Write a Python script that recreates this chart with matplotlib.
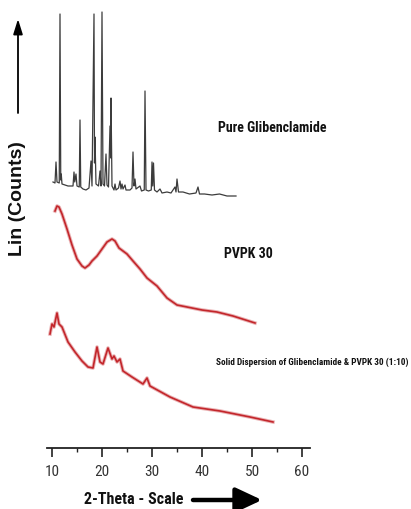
import matplotlib
matplotlib.use("Agg")
import matplotlib.pyplot as plt
from matplotlib import font_manager as fm
from matplotlib.ticker import MultipleLocator

# ---------------- data (2-theta, intensity in arbitrary counts) ----------------
pure_theta = [10.2, 10.6, 10.8, 11.0, 11.45, 11.6, 11.75, 11.85, 12.0, 12.6, 13.2, 14.2, 14.4,
              14.55, 14.8, 15.0, 15.45, 15.6, 15.75, 16.2, 16.8, 17.4, 17.8, 18.0, 18.4, 18.5,
              18.6, 18.8, 19.3, 19.6, 19.8, 20.0, 20.2, 20.5, 20.8, 21.0, 21.3, 21.6, 21.75,
              21.8, 22.0, 22.4, 22.6, 22.8, 23.3, 23.6, 23.8, 24.0, 24.2, 24.6, 24.8, 25.6,
              26.0, 26.2, 26.4, 26.6, 26.8, 27.6, 27.9, 28.45, 28.6, 28.8, 29.3, 29.85, 30.0,
              30.15, 30.3, 30.5, 31.0, 31.6, 32.0, 33.0, 33.8, 34.6, 34.8, 35.0, 35.3, 36.2,
              37.5, 38.8, 39.2, 39.5, 40.5, 42.0, 43.5, 45.0, 46.8]
pure_counts = [266, 265, 286, 266, 265, 434, 268, 274, 264, 263, 262, 262, 276,
               266, 274, 262, 261, 328, 261, 259, 258, 260, 287, 262, 434, 285,
               311, 264, 262, 277, 262, 436, 264, 262, 294, 263, 261, 322, 290,
               350, 262, 258, 264, 258, 260, 267, 259, 264, 259, 263, 258, 258,
               260, 296, 262, 269, 259, 262, 257, 258, 357, 258, 257, 258, 286,
               262, 285, 258, 256, 259, 255, 256, 255, 261, 256, 269, 256, 256,
               254, 255, 261, 254, 254, 253, 254, 252, 252]

pvp_theta = [10.6, 11.0, 11.4, 12.0, 13.0, 14.0, 15.0, 16.0, 16.6, 17.4, 18.0, 19.0, 20.0,
             21.0, 22.0, 22.6, 23.4, 25.0, 26.2, 27.6, 29.0, 31.0, 33.0, 35.0, 37.0, 40.0,
             43.0, 46.2, 50.6]
pvp_counts = [237, 242, 241, 234, 219, 203, 189, 182, 180, 183, 187, 192, 199,
              206, 209, 207, 200, 194, 187, 179, 170, 162, 150, 143, 141, 138,
              136, 132, 125]

sd_theta = [9.6, 10.0, 10.4, 11.0, 11.4, 12.0, 13.2, 14.6, 16.0, 17.2, 18.2, 19.0, 19.6,
            20.2, 21.2, 22.0, 22.4, 23.0, 23.6, 24.2, 26.0, 28.2, 29.0, 29.6, 33.6, 38.2,
            43.6, 49.6, 54.2]
sd_counts = [114, 124, 121, 135, 124, 121, 106, 96, 87, 81, 80, 101, 86,
             84, 100, 89, 92, 86, 89, 77, 71, 64, 70, 62, 51, 41,
             37, 31, 26]

labels = ["Pure Glibenclamide", "PVPK 30",
          "Solid Dispersion of Glibenclamide & PVPK 30 (1:10)"]
x_ticks = [10, 20, 30, 40, 50, 60]

# ---------------- pick a narrow font if one is installed ----------------
entries = fm.fontManager.ttflist
def is_narrow(f):
    return ("condensed" in str(f.stretch).lower() or "Narrow" in f.name
            or "Condensed" in f.name)
narrow_names = {f.name for f in entries if is_narrow(f)}
pref = ["Liberation Sans Narrow", "Roboto Condensed", "Open Sans Condensed",
        "Noto Sans", "Open Sans", "Roboto", "DejaVu Sans"]
narrow_family = None
for p in pref:
    if p in narrow_names:
        narrow_family = p
        break
if narrow_family is None:
    narrow_family = next(iter(sorted(narrow_names)), "Liberation Sans")
narrow = [narrow_family, "Liberation Sans", "DejaVu Sans"]
STRETCH = "condensed"

# ---------------- figure ----------------
W, H = 411, 510
fig = plt.figure(figsize=(W / 100, H / 100), dpi=100)
ax = fig.add_axes([47 / W, 61 / H, 263 / W, 449 / H])

red = "#c3262b"

ax.plot(pure_theta, pure_counts, color="#3c3c3c", lw=0.9)
ax.plot(pvp_theta, pvp_counts, color=red, lw=2.6, alpha=0.35, solid_joinstyle="round")
ax.plot(pvp_theta, pvp_counts, color=red, lw=1.2)
ax.plot(sd_theta, sd_counts, color=red, lw=2.6, alpha=0.35, solid_joinstyle="round")
ax.plot(sd_theta, sd_counts, color=red, lw=1.2)

ax.set_xlim(9, 61.6)
ax.set_ylim(0, 449)
for s in ["top", "left", "right"]:
    ax.spines[s].set_visible(False)
ax.spines["bottom"].set_linewidth(1.3)
ax.spines["bottom"].set_color("#222222")
ax.set_yticks([])
ax.set_xticks(x_ticks)
ax.xaxis.set_minor_locator(MultipleLocator(5))
ax.tick_params(axis="x", which="major", length=6.5, width=1.2, pad=5, color="#222222",
               labelcolor="#333333")
ax.tick_params(axis="x", which="minor", length=3, width=1.0, color="#222222")
for t in ax.get_xticklabels():
    t.set_fontfamily(narrow)
    t.set_fontstretch(STRETCH)
    t.set_fontsize(11)

ax.text(54, 321, labels[0], ha="center", va="center", fontsize=10, fontweight="bold",
        family=narrow, fontstretch=STRETCH, color="#111111")
ax.text(49.2, 195, labels[1], ha="center", va="center", fontsize=10, fontweight="bold",
        family=narrow, fontstretch=STRETCH, color="#111111")
ax.text(42.8, 87, labels[2], ha="left", va="center", fontsize=6.7, fontweight="bold",
        family=narrow, fontstretch=STRETCH, color="#111111", clip_on=False)

# axis titles
fig.text(134 / W, 1 - 500 / H, "2-Theta - Scale", ha="center", va="center", fontsize=11.5,
         fontweight="bold", family=narrow, fontstretch=STRETCH, color="#111111")
fig.text(18 / W, 1 - 199 / H, "Lin (Counts)", ha="center", va="center", rotation=90,
         fontsize=14, fontweight="bold", family=["Liberation Sans", "DejaVu Sans"],
         color="#111111")

# arrows
ax.annotate("", xy=(262 / W, 1 - 501 / H), xytext=(193 / W, 1 - 501 / H),
            xycoords="figure fraction", textcoords="figure fraction",
            arrowprops=dict(arrowstyle="-|>,head_length=1.6,head_width=0.75", lw=3.2,
                            color="black", shrinkA=0, shrinkB=0))
ax.annotate("", xy=(18 / W, 1 - 20 / H), xytext=(18 / W, 1 - 114 / H),
            xycoords="figure fraction", textcoords="figure fraction",
            arrowprops=dict(arrowstyle="-|>,head_length=0.9,head_width=0.28", lw=1.3,
                            color="black", shrinkA=0, shrinkB=0))

fig.savefig("out.png", dpi=100)
